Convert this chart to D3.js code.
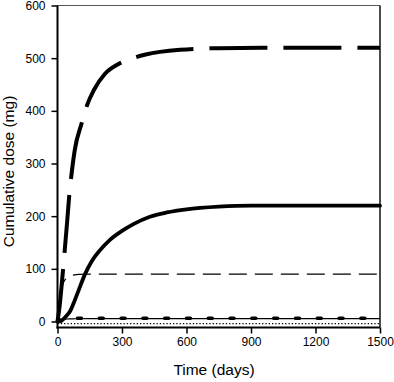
<!DOCTYPE html>
<html>
<head>
<meta charset="utf-8">
<script src="https://cdn.jsdelivr.net/npm/d3@7"></script>
<style>
  html, body { margin: 0; padding: 0; background: #fff; }
  svg { display: block; }
  text { font-family: Arial, "Liberation Sans", sans-serif; fill: #000; }
</style>
</head>
<body>
<svg id="chart" width="394" height="382"></svg>
<script>
// ---- data ----
const xTicks = [0, 300, 600, 900, 1200, 1500];
const yTicks = [0, 100, 200, 300, 400, 500, 600];

// long thick dashes (plateau ~520 mg)
const longDashT = [0, 10, 20, 30, 45, 54, 62, 80, 112, 135, 170, 220, 280, 330, 410, 570, 750, 1000, 1500];
const longDashV = [0, 30, 72, 118, 190, 236, 268, 325, 376, 408, 440, 470, 488, 497, 507, 516, 519, 520, 520];

// thick solid (plateau ~220 mg)
const thickSolidT = [0, 15, 26, 40, 57, 80, 100, 127, 160, 197, 244, 300, 353, 430, 508, 600, 750, 900, 1200, 1500];
const thickSolidV = [0, 0.5, 4, 10, 18.5, 40, 61, 89, 115, 135, 155, 172, 185, 199, 207, 213, 218, 220, 220, 220];

// thin dashes (plateau ~90 mg)
const thinDashT = [0, 10, 21, 30, 42, 55, 73, 100, 200, 1500];
const thinDashV = [0, 40, 66, 76, 82, 86, 88, 89.5, 90, 90];

// thin solid (plateau ~5 mg)
const thinSolidT = [0, 10, 20, 35, 50, 80, 150, 1500];
const thinSolidV = [0, 1.5, 3, 4.3, 4.8, 5.2, 5.5, 5.5];

// thick dots (~6 mg)
const dotsT = [0, 20, 50, 100, 1500];
const dotsV = [0, 4, 5.5, 6, 6];

// fine dotted (~ -4 mg)
const dottedT = [0, 1500];
const dottedV = [-4, -4];

// ---- layout ----
const svg = d3.select("#chart");
const x = d3.scaleLinear().domain([0, 1500]).range([57.5, 380]);
const y = d3.scaleLinear().domain([0, 600]).range([321.5, 5.5]);
const axisY = 327.5;

const zip = (t, v) => t.map((d, i) => [d, v[i]]);
const line = d3.line().x(d => x(d[0])).y(d => y(d[1])).curve(d3.curveMonotoneX);

// frame top / right
svg.append("line").attr("x1", x(0)).attr("x2", x(1500)).attr("y1", y(600)).attr("y2", y(600))
  .attr("stroke", "#555").attr("stroke-width", 1);
svg.append("line").attr("x1", x(1500)).attr("x2", x(1500)).attr("y1", y(600)).attr("y2", axisY)
  .attr("stroke", "#111").attr("stroke-width", 1.5);

// series
const series = [
  { t: dottedT, v: dottedV, w: 1.2, dash: "1.3,2", cap: "butt" },
  { t: thinSolidT, v: thinSolidV, w: 1.2, dash: null, cap: "butt" },
  { t: dotsT, v: dotsV, w: 3.5, dash: "4,17.8", cap: "round", off: 1.3 },
  { t: thinDashT, v: thinDashV, w: 1.2, dash: "18,8", cap: "butt" },
  { t: thickSolidT, v: thickSolidV, w: 3.8, dash: null, cap: "round" },
  { t: longDashT, v: longDashV, w: 4, dash: "58,16", cap: "butt", off: 5 }
];
series.forEach(s => {
  svg.append("path")
    .attr("d", line(zip(s.t, s.v)))
    .attr("fill", "none")
    .attr("stroke", "#000")
    .attr("stroke-width", s.w)
    .attr("stroke-linecap", s.cap)
    .attr("stroke-dasharray", s.dash)
    .attr("stroke-dashoffset", s.off || 0);
});

// axes
const gx = svg.append("g").attr("transform", `translate(0,${axisY})`)
  .call(d3.axisBottom(x).tickValues(xTicks).tickSize(6).tickPadding(4).tickFormat(d3.format("d")));
const gy = svg.append("g").attr("transform", `translate(${x(0)},0)`)
  .call(d3.axisLeft(y).tickValues(yTicks).tickSize(6).tickPadding(6).tickFormat(d3.format("d")));
[gx, gy].forEach(g => {
  g.select(".domain").remove();
  g.selectAll(".tick line").attr("stroke", "#000").attr("stroke-width", 1.5);
  g.selectAll(".tick text").attr("font-size", 12).attr("font-family", "Arial, 'Liberation Sans', sans-serif").attr("fill", "#000");
});
svg.append("line").attr("x1", x(0)).attr("x2", x(0)).attr("y1", y(600)).attr("y2", axisY + 1)
  .attr("stroke", "#000").attr("stroke-width", 2);
svg.append("line").attr("x1", x(0) - 1).attr("x2", x(1500)).attr("y1", axisY).attr("y2", axisY)
  .attr("stroke", "#000").attr("stroke-width", 2);

// axis titles
svg.append("text").attr("x", 214).attr("y", 375).attr("text-anchor", "middle")
  .attr("font-size", 15.5).text("Time (days)");
svg.append("text").attr("transform", "translate(13.5,171.5) rotate(-90)").attr("text-anchor", "middle")
  .attr("font-size", 15.5).text("Cumulative dose (mg)");
</script>
</body>
</html>
